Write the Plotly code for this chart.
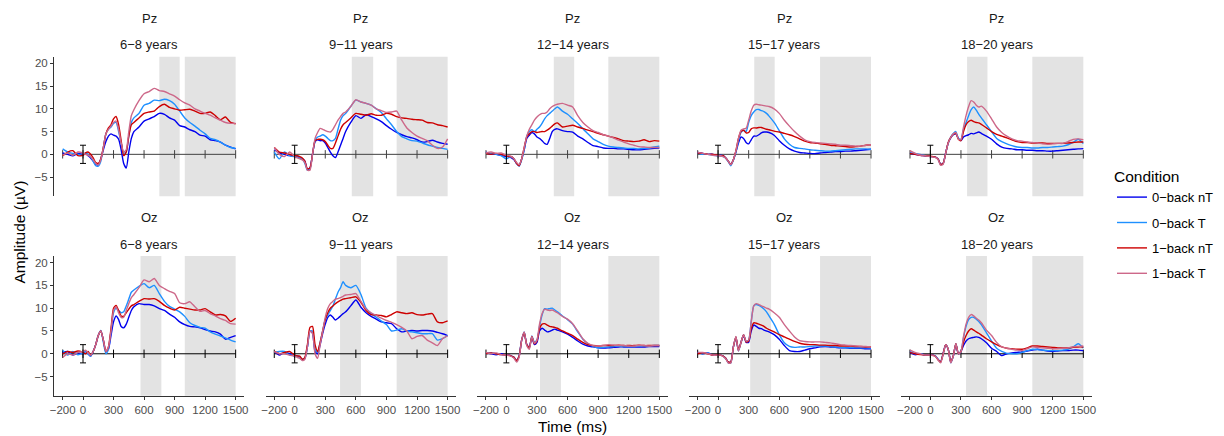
import plotly.graph_objects as go

# ---------------- data ----------------
TIME_MS = [-200, -150, -100, -50, 0,
           25, 50, 75, 100, 125, 150, 175, 200, 225, 250, 275, 300, 325, 350, 375, 400, 425, 450, 475, 500,
           550, 600, 650, 700, 750, 800, 850, 900, 950, 1000, 1050, 1100, 1150, 1200, 1250, 1300, 1350, 1400, 1450, 1500]

CONDITIONS = ["0−back nT", "0−back T", "1−back nT", "1−back T"]
AGE_GROUPS = ["6−8 years", "9−11 years", "12−14 years", "15−17 years", "18−20 years"]
ELECTRODES = ["Pz", "Oz"]
X_TICKS = [-200, 0, 300, 600, 900, 1200, 1500]
X_TICK_TEXT = ["−200", "0", "300", "600", "900", "1200", "1500"]
Y_TICKS = [-5, 0, 5, 10, 15, 20]
Y_TICK_TEXT = ["−5", "0", "5", "10", "15", "20"]
ERROR_HALF = 2.0
# analysis windows (ms) per age group
WIN_PZ = [(750, 950), (560, 770), (465, 665), (355, 555), (360, 560)]
WIN_OZ = [(565, 770), (445, 650), (330, 535), (315, 520), (350, 555)]
LATE_WIN = (1000, 1500)

# ---- Pz ----
PZ_6_8_NT0 = [0.3, 0.0, -0.3, 0.2, 0.0,
              0.2, -0.3, -0.8, -1.5, -2.2, -2.3, -1.0, 1.0, 2.8, 4.0, 4.5, 4.2, 4.0, 3.3, 1.0, -2.0, -3.0, 0.5, 3.5, 5.0,
              6.0, 7.3, 7.8, 8.3, 9.0, 8.8, 8.0, 7.5, 6.3, 6.0, 5.4, 5.0, 4.2, 4.0, 3.2, 3.0, 2.7, 2.0, 1.6, 1.2]
PZ_6_8_T0 = [1.2, 0.5, 0.2, 0.0, -0.2,
             0.3, 0.0, -0.5, -1.5, -2.5, -2.6, -1.5, 1.5, 4.5, 5.5, 6.0, 6.8, 7.0, 5.0, 2.5, 0.3, 0.5, 4.0, 7.0, 8.0,
             9.0, 10.8, 11.2, 11.9, 11.8, 12.1, 11.8, 11.0, 9.5, 8.0, 7.0, 6.2, 5.3, 4.5, 3.5, 3.2, 2.7, 2.0, 1.5, 1.3]
PZ_6_8_NT1 = [-0.3, 0.5, 0.8, -0.3, -0.2,
              0.3, 0.5, 0.0, -0.8, -1.8, -2.0, -1.0, 1.5, 4.5, 5.8, 6.5, 7.8, 8.3, 6.5, 3.0, -0.3, 0.5, 4.0, 6.5, 7.0,
              8.0, 9.0, 9.3, 9.5, 10.5, 11.0, 10.3, 10.0, 9.7, 9.8, 9.9, 9.5, 9.0, 9.0, 9.3, 8.5, 7.6, 8.2, 7.0, 6.7]
PZ_6_8_T1 = [-0.2, 0.3, -0.2, 0.5, 0.3,
             0.0, -0.2, -0.5, -1.2, -2.0, -2.3, -1.2, 1.5, 4.5, 5.5, 6.2, 7.0, 7.3, 5.5, 2.5, 0.5, 1.0, 5.0, 8.5, 9.8,
             11.8, 13.3, 13.8, 14.5, 14.0, 13.8, 13.3, 12.8, 12.0, 11.3, 10.8, 10.0, 9.5, 9.0, 8.6, 8.0, 7.5, 7.0, 6.8, 6.8]

PZ_9_11_NT0 = [1.0, 0.3, 0.0, -0.3, -0.5,
               -0.5, -0.8, -1.0, -1.5, -3.3, -3.0, 0.0, 2.8, 3.2, 3.0, 3.0, 2.5, 1.5, 0.5, -0.3, -0.7, 0.5, 2.0, 3.5, 5.0,
               7.0, 8.5, 7.9, 8.7, 8.3, 7.8, 7.2, 6.3, 5.5, 4.8, 4.3, 3.9, 3.6, 3.2, 2.7, 2.8, 3.1, 2.7, 2.4, 2.2]
PZ_9_11_T0 = [0.5, -1.0, 0.5, -0.3, -0.5,
              -0.3, -0.8, -1.0, -2.0, -3.5, -3.2, 0.0, 3.0, 3.8, 4.0, 4.3, 4.0, 3.5, 3.0, 3.0, 3.5, 5.5, 7.5, 8.5, 9.0,
              10.5, 11.9, 11.5, 11.2, 10.8, 10.0, 9.2, 7.8, 6.5, 5.0, 3.9, 3.4, 3.0, 2.9, 2.5, 2.1, 1.8, 1.5, 1.3, 1.1]
PZ_9_11_NT1 = [1.5, 0.5, 0.3, 0.0, -0.3,
               -0.3, -0.5, -0.8, -1.5, -3.2, -3.0, 0.0, 3.0, 3.3, 3.3, 3.2, 2.8, 2.0, 1.3, 1.3, 2.5, 4.0, 5.5, 6.5, 7.0,
               8.0, 9.0, 8.8, 8.6, 8.9, 8.6, 8.6, 9.0, 8.8, 8.3, 8.0, 7.9, 7.7, 7.6, 7.5, 7.0, 6.9, 6.5, 6.3, 6.0]
PZ_9_11_T1 = [1.5, 0.0, -0.5, 0.5, -0.5,
              -0.8, -1.0, -1.2, -1.8, -3.5, -3.5, 0.0, 3.5, 4.8, 5.7, 5.5, 5.2, 5.0, 4.9, 5.5, 6.5, 7.5, 8.3, 9.0, 9.3,
              10.5, 12.0, 11.5, 11.2, 10.8, 10.0, 9.6, 9.2, 9.3, 9.5, 7.5, 5.8, 4.8, 4.0, 3.5, 3.0, 2.0, 1.3, 1.6, 3.4]

PZ_12_14_NT0 = [0.5, 0.0, 0.0, -0.3, -0.5,
                -0.5, -0.8, -1.2, -2.0, -2.5, -1.0, 1.0, 3.5, 4.2, 4.8, 4.5, 3.8, 3.5, 3.0, 2.4, 2.2, 3.5, 5.0, 5.5, 5.6,
                5.2, 5.0, 4.9, 4.0, 3.4, 2.6, 1.9, 1.7, 1.4, 1.3, 1.3, 1.2, 1.2, 1.1, 1.0, 1.0, 1.1, 1.2, 1.3, 1.4]
PZ_12_14_T0 = [0.3, 0.2, 0.0, -0.3, -1.0,
               -0.7, -0.5, -1.0, -2.0, -2.6, -1.2, 1.0, 4.0, 5.0, 5.4, 5.0, 5.5, 6.0, 6.8, 7.8, 8.5, 9.0, 9.5, 10.0, 10.4,
               9.5, 8.8, 7.8, 6.8, 5.6, 4.5, 3.4, 2.8, 2.2, 1.8, 1.6, 1.5, 1.4, 1.3, 1.3, 1.2, 1.3, 1.4, 1.6, 1.8]
PZ_12_14_NT1 = [0.2, 0.0, 0.2, 0.0, -0.3,
                -0.5, -0.5, -1.0, -2.0, -2.5, -1.0, 1.5, 3.8, 4.5, 5.0, 5.0, 4.8, 4.9, 5.0, 5.0, 5.3, 5.7, 6.2, 6.7, 6.9,
                6.0, 6.2, 6.4, 6.0, 5.7, 5.3, 5.0, 4.6, 4.3, 4.0, 3.7, 3.4, 3.0, 2.9, 2.8, 2.9, 3.2, 2.8, 3.0, 2.9]
PZ_12_14_T1 = [0.3, 0.5, 0.2, 0.3, -0.2,
               -0.3, -0.5, -1.0, -1.8, -2.3, -1.0, 1.5, 4.0, 5.5, 6.5, 7.5, 8.2, 8.7, 9.0, 9.0, 9.3, 10.0, 10.5, 10.8, 11.0,
               11.2, 10.8, 10.4, 8.5, 7.0, 6.0, 5.2, 4.8, 4.3, 4.0, 3.6, 3.1, 2.7, 2.3, 2.0, 1.7, 1.6, 1.5, 1.5, 1.5]

PZ_15_17_NT0 = [0.4, 0.2, 0.0, 0.0, -0.3,
                -0.2, -0.3, -0.8, -1.5, -2.2, -1.2, 0.5, 2.5, 3.8, 3.5, 2.6, 2.3, 3.2, 4.0, 4.0, 4.3, 4.7, 4.9, 4.9, 4.8,
                4.2, 3.0, 2.0, 1.2, 0.7, 0.4, 0.3, 0.2, 0.15, 0.3, 0.4, 0.5, 0.6, 0.6, 0.7, 0.7, 0.8, 0.9, 1.0, 1.1]
PZ_15_17_T0 = [0.3, 0.0, 0.0, -0.2, -0.3,
               -0.3, -0.5, -0.8, -1.6, -2.5, -1.3, 0.5, 3.0, 4.8, 5.3, 5.0, 7.0, 8.5, 9.3, 9.8, 9.85, 9.6, 9.4, 9.0, 8.4,
               7.0, 5.2, 3.4, 2.2, 1.5, 1.3, 1.2, 1.0, 0.9, 0.8, 0.7, 0.7, 0.8, 0.9, 1.0, 1.1, 1.2, 1.2, 1.2, 1.1]
PZ_15_17_NT1 = [0.3, 0.2, 0.0, 0.0, -0.2,
                -0.3, -0.3, -0.8, -1.5, -2.2, -1.2, 0.8, 3.5, 5.0, 5.3, 4.7, 4.8, 5.6, 5.8, 5.8, 5.9, 5.9, 5.7, 5.5, 5.4,
                5.1, 4.9, 4.6, 4.3, 3.9, 3.4, 2.9, 2.6, 2.5, 2.3, 2.2, 2.0, 1.9, 1.8, 1.7, 1.6, 1.7, 1.8, 2.0, 2.1]
PZ_15_17_T1 = [0.5, 0.2, 0.0, -0.2, -0.3,
               -0.3, -0.5, -0.8, -1.5, -2.3, -1.2, 0.8, 3.5, 5.3, 5.6, 5.7, 7.5, 9.5, 10.8, 11.0, 10.9, 10.8, 10.7, 10.6, 10.5,
               10.0, 9.0, 7.5, 6.2, 5.0, 4.0, 3.2, 2.8, 2.6, 2.5, 2.4, 2.3, 2.2, 2.0, 2.0, 1.9, 1.8, 1.8, 2.0, 2.1]

PZ_18_20_NT0 = [0.3, 0.0, -0.2, -0.3, -0.5,
                -0.5, -0.6, -1.0, -2.2, -2.0, 0.3, 2.5, 3.6, 4.3, 4.5, 3.5, 3.0, 3.8, 4.1, 4.3, 4.6, 4.5, 4.7, 4.9, 4.6,
                4.0, 3.3, 2.3, 1.6, 1.3, 1.2, 1.0, 1.0, 0.9, 0.9, 0.8, 0.8, 0.7, 0.7, 0.8, 0.9, 1.0, 1.1, 1.2, 1.25]
PZ_18_20_T0 = [0.3, 0.2, 0.0, -0.3, -0.5,
               -0.5, -0.6, -1.0, -2.2, -2.0, 0.2, 2.5, 3.8, 4.6, 5.0, 3.5, 3.3, 5.5, 7.0, 8.5, 9.8, 10.4, 9.7, 8.8, 8.0,
               6.5, 5.0, 3.5, 2.8, 2.3, 1.9, 1.6, 1.5, 1.5, 1.4, 1.4, 1.5, 1.5, 1.6, 1.7, 1.8, 2.1, 2.6, 3.3, 2.4]
PZ_18_20_NT1 = [0.2, 0.0, -0.2, -0.3, -0.4,
                -0.5, -0.6, -1.0, -2.2, -2.0, 0.2, 2.6, 3.7, 4.4, 4.6, 3.3, 3.0, 5.0, 6.5, 7.2, 7.5, 7.2, 7.0, 6.9, 6.6,
                5.8, 5.0, 4.4, 4.0, 3.6, 3.2, 2.8, 2.6, 2.6, 2.5, 2.5, 2.5, 2.4, 2.4, 2.4, 2.4, 2.5, 2.6, 2.7, 2.7]
PZ_18_20_T1 = [0.8, 0.2, -0.2, -0.3, -0.5,
               -0.6, -0.7, -1.1, -2.4, -2.2, 0.2, 2.5, 3.7, 4.5, 4.8, 3.3, 3.2, 6.0, 8.5, 10.5, 11.8, 11.5, 10.8, 10.4, 10.6,
               9.5, 7.8, 6.0, 4.8, 4.0, 3.4, 3.0, 2.9, 2.7, 2.6, 2.5, 2.3, 2.2, 2.3, 2.4, 2.4, 2.8, 3.3, 3.4, 3.2]

# ---- Oz ----
OZ_6_8_NT0 = [0.3, 0.5, -0.3, 0.2, 0.0,
              0.5, 0.0, -0.5, 0.5, 2.0, 4.0, 5.0, 3.0, 0.5, 1.0, 4.0, 7.0, 8.3, 7.5, 6.0, 5.7, 6.5, 8.0, 9.5, 10.3,
              11.0, 10.8, 10.8, 10.5, 9.9, 9.5, 8.7, 8.0, 7.0, 6.4, 6.0, 5.9, 5.7, 5.3, 5.0, 4.8, 4.3, 3.2, 3.6, 4.0]
OZ_6_8_T0 = [0.8, -0.3, 0.5, -0.2, 0.2,
             0.5, 0.0, -0.5, 0.5, 2.0, 4.0, 5.1, 2.5, 0.0, 1.0, 5.0, 9.0, 10.0, 9.5, 9.0, 9.2, 10.5, 12.0, 13.5, 14.0,
             14.8, 15.4, 14.5, 15.0, 13.2, 11.5, 10.4, 9.8, 9.2, 8.2, 6.8, 6.2, 5.8, 5.6, 4.8, 4.3, 3.9, 3.5, 3.0, 2.6]
OZ_6_8_NT1 = [0.0, 0.5, 0.3, 0.6, 0.3,
              0.0, 0.5, -0.3, 0.5, 2.0, 4.0, 5.0, 3.0, 0.5, 1.5, 5.5, 10.0, 10.6, 9.5, 8.3, 8.2, 9.0, 9.8, 10.5, 10.8,
              11.5, 12.1, 12.0, 12.1, 11.5, 10.6, 10.0, 9.6, 10.2, 10.0, 9.8, 9.6, 9.6, 9.9, 9.2, 8.5, 8.6, 8.3, 7.1, 7.8]
OZ_6_8_T1 = [-0.8, 0.0, -0.3, 0.3, 0.5,
             0.8, 0.2, -0.3, 0.5, 2.0, 4.0, 5.0, 3.0, 0.5, 1.5, 5.0, 9.5, 10.3, 9.0, 8.0, 8.0, 9.5, 11.0, 12.3, 13.0,
             14.5, 16.2, 15.8, 16.5, 15.0, 14.3, 13.7, 13.2, 11.2, 11.0, 11.4, 10.3, 9.3, 9.5, 8.8, 8.3, 7.7, 7.3, 6.6, 6.5]

OZ_9_11_NT0 = [0.5, -0.3, 0.3, 0.0, -0.5,
               -0.5, -0.8, -1.3, -1.0, 1.5, 5.0, 4.5, 0.5, 0.0, 2.0, 4.5, 6.5, 8.0, 8.5, 8.0, 7.4, 7.8, 8.3, 8.8, 9.2,
               10.5, 11.8, 10.2, 9.0, 8.2, 7.6, 7.0, 6.8, 6.6, 5.5, 4.8, 5.0, 5.1, 5.0, 5.1, 5.1, 5.0, 4.7, 4.4, 4.0]
OZ_9_11_T0 = [0.3, 0.5, 0.5, -0.3, -0.3,
              -0.5, -0.8, -1.2, -1.0, 1.5, 5.0, 5.0, 1.0, 0.3, 2.5, 5.0, 7.5, 8.5, 9.5, 10.5, 12.0, 13.5, 14.5, 15.8, 15.0,
              14.5, 15.0, 13.0, 10.0, 8.8, 8.0, 7.2, 6.4, 5.0, 5.2, 5.5, 5.0, 4.8, 4.6, 4.4, 4.4, 4.4, 3.0, 3.3, 4.0]
OZ_9_11_NT1 = [0.5, 0.0, 0.3, 0.5, -0.3,
               -0.5, -0.5, -1.2, -0.8, 2.0, 5.8, 6.0, 2.0, 0.5, 2.5, 5.0, 7.5, 9.0, 10.0, 10.5, 11.0, 11.4, 11.7, 12.0, 12.1,
               12.3, 12.5, 11.3, 9.5, 8.6, 8.5, 8.4, 8.1, 8.6, 9.2, 9.0, 8.8, 9.0, 8.6, 8.5, 8.7, 8.8, 7.0, 6.8, 7.2]
OZ_9_11_T1 = [0.5, 0.0, 0.0, -0.3, -0.5,
              -0.8, -1.0, -1.5, -1.2, 1.5, 5.0, 4.5, 0.0, -1.0, 2.0, 5.0, 8.0, 10.0, 11.0, 11.5, 12.0, 12.1, 12.3, 12.6, 12.9,
              13.0, 13.2, 11.5, 9.8, 9.0, 8.4, 7.8, 7.3, 6.9, 6.4, 5.8, 5.0, 3.3, 3.8, 4.0, 3.0, 2.4, 1.8, 3.3, 3.9]

OZ_12_14_NT0 = [0.2, 0.0, -0.2, 0.0, -0.3,
                -0.3, -0.5, -0.8, -1.5, -0.5, 3.0, 4.6, 2.0, 1.5, 3.6, 2.0, 2.5, 5.0, 5.6, 5.2, 4.8, 4.9, 5.2, 5.4, 5.2,
                4.8, 4.3, 3.6, 2.8, 2.1, 1.7, 1.5, 1.3, 1.25, 1.3, 1.4, 1.5, 1.5, 1.5, 1.5, 1.5, 1.5, 1.6, 1.6, 1.6]
OZ_12_14_T0 = [0.0, 0.2, 0.0, -0.2, -0.3,
               -0.3, -0.5, -0.8, -1.6, -0.5, 3.0, 4.8, 2.0, 1.2, 3.9, 2.5, 3.0, 6.0, 8.5, 9.9, 9.8, 9.9, 10.0, 9.6, 9.2,
               8.3, 7.5, 6.5, 4.8, 3.2, 2.2, 1.6, 1.3, 1.4, 1.5, 1.6, 1.7, 1.6, 1.6, 1.6, 1.7, 1.7, 1.7, 1.8, 1.8]
OZ_12_14_NT1 = [0.0, 0.2, 0.0, -0.2, -0.3,
                -0.3, -0.5, -0.8, -1.5, -0.5, 3.0, 4.6, 2.0, 1.3, 3.8, 2.2, 2.8, 5.5, 6.5, 6.6, 6.3, 6.0, 5.9, 5.8, 5.6,
                5.0, 4.5, 4.0, 3.2, 2.5, 2.0, 1.8, 1.7, 1.8, 1.8, 1.8, 1.9, 1.8, 1.8, 1.8, 1.9, 1.8, 1.8, 1.8, 1.8]
OZ_12_14_T1 = [0.3, 0.0, 0.2, -0.2, -0.3,
               -0.4, -0.6, -1.0, -1.8, -0.8, 3.0, 4.8, 1.8, 1.0, 3.8, 2.3, 3.0, 6.5, 8.8, 9.8, 9.6, 9.5, 9.6, 9.3, 9.0,
               8.2, 7.6, 6.6, 5.0, 3.3, 2.3, 1.8, 1.7, 1.8, 2.0, 1.9, 1.8, 1.8, 1.7, 1.7, 1.8, 1.8, 1.7, 1.8, 1.8]

OZ_15_17_NT0 = [0.3, 0.0, 0.2, -0.3, -0.2,
                -0.3, -0.5, -1.0, -1.8, -1.8, 1.5, 3.5, 0.8, 2.5, 4.0, 2.5, 2.5, 5.0, 6.3, 6.0, 5.6, 5.5, 5.2, 5.0, 4.8,
                4.2, 3.2, 1.8, 0.7, 0.5, 0.5, 0.8, 1.1, 1.3, 1.5, 1.6, 1.5, 1.4, 1.3, 1.3, 1.2, 1.2, 1.2, 1.1, 1.1]
OZ_15_17_T0 = [0.2, 0.0, 0.2, -0.3, -0.3,
               -0.3, -0.5, -1.0, -2.0, -2.0, 1.5, 3.7, 0.6, 2.5, 4.2, 2.8, 3.0, 7.0, 10.5, 10.8, 10.6, 10.3, 9.8, 9.2, 8.3,
               6.5, 4.2, 2.4, 1.6, 1.4, 1.5, 1.5, 1.6, 1.7, 1.7, 1.7, 1.6, 1.5, 1.4, 1.3, 1.3, 1.3, 1.3, 1.3, 1.25]
OZ_15_17_NT1 = [0.0, 0.2, 0.0, -0.3, -0.2,
                -0.3, -0.5, -1.0, -1.8, -1.8, 1.5, 3.7, 0.8, 2.5, 4.2, 2.6, 2.8, 5.5, 6.8, 6.7, 6.5, 6.3, 6.0, 5.6, 5.3,
                4.8, 4.2, 3.7, 3.2, 2.7, 2.3, 2.1, 2.0, 2.0, 1.9, 1.9, 1.8, 1.8, 1.7, 1.7, 1.7, 1.6, 1.6, 1.5, 1.5]
OZ_15_17_T1 = [0.3, 0.3, 0.0, -0.3, -0.3,
               -0.3, -0.6, -1.1, -2.0, -2.0, 1.5, 3.8, 0.6, 2.5, 4.2, 2.8, 3.0, 7.0, 10.5, 11.0, 10.8, 10.5, 10.3, 10.0, 9.8,
               9.0, 8.0, 6.4, 5.0, 3.7, 2.9, 2.7, 2.6, 2.6, 2.6, 2.5, 2.4, 2.2, 2.0, 1.9, 1.8, 1.7, 1.6, 1.6, 1.5]

OZ_18_20_NT0 = [0.3, -0.2, 0.0, -0.3, -0.3,
                -0.3, -0.5, -1.2, -1.8, 0.0, 2.0, 1.0, -1.8, -0.5, 2.1, 0.0, 0.5, 1.8, 2.8, 3.3, 3.5, 3.6, 3.7, 3.6, 3.3,
                2.4, 1.2, 0.5, -0.4, 0.0, 0.2, 0.3, 0.4, 0.6, 0.8, 1.0, 0.8, 0.6, 0.5, 0.6, 0.7, 0.7, 0.8, 0.8, 0.7]
OZ_18_20_T0 = [0.5, 0.0, 0.0, -0.3, -0.3,
               -0.3, -0.5, -1.2, -1.8, 0.0, 2.0, 1.0, -2.0, -0.5, 2.2, 0.0, 0.5, 3.5, 6.0, 7.5, 8.0, 8.0, 7.6, 7.1, 6.4,
               4.6, 2.8, 1.2, 0.5, 0.1, 0.0, 0.0, 0.3, 0.7, 1.0, 0.9, 0.8, 0.7, 0.7, 0.7, 0.8, 1.0, 1.5, 2.2, 1.25]
OZ_18_20_NT1 = [0.3, 0.0, -0.2, -0.3, -0.3,
                -0.3, -0.6, -1.3, -1.8, 0.0, 2.0, 1.0, -1.8, -0.4, 2.2, 0.0, 0.5, 2.5, 4.0, 5.0, 5.5, 5.2, 4.8, 4.5, 4.1,
                3.3, 2.6, 2.0, 1.5, 1.2, 1.1, 1.0, 1.0, 1.3, 1.7, 1.7, 1.6, 1.5, 1.4, 1.3, 1.3, 1.3, 1.4, 1.5, 1.5]
OZ_18_20_T1 = [0.8, 0.3, 0.0, -0.3, -0.3,
               -0.4, -0.6, -1.3, -2.0, -0.2, 2.0, 1.0, -2.0, -0.5, 2.2, 0.0, 0.5, 3.8, 6.5, 8.0, 8.6, 8.3, 7.8, 7.4, 6.8,
               5.2, 4.0, 2.5, 1.5, 1.2, 1.0, 0.8, 0.7, 1.1, 1.5, 1.4, 1.3, 1.2, 1.1, 1.1, 1.2, 1.3, 1.5, 1.6, 1.7]

PANEL_SERIES = [
    [PZ_6_8_NT0, PZ_6_8_T0, PZ_6_8_NT1, PZ_6_8_T1],
    [PZ_9_11_NT0, PZ_9_11_T0, PZ_9_11_NT1, PZ_9_11_T1],
    [PZ_12_14_NT0, PZ_12_14_T0, PZ_12_14_NT1, PZ_12_14_T1],
    [PZ_15_17_NT0, PZ_15_17_T0, PZ_15_17_NT1, PZ_15_17_T1],
    [PZ_18_20_NT0, PZ_18_20_T0, PZ_18_20_NT1, PZ_18_20_T1],
    [OZ_6_8_NT0, OZ_6_8_T0, OZ_6_8_NT1, OZ_6_8_T1],
    [OZ_9_11_NT0, OZ_9_11_T0, OZ_9_11_NT1, OZ_9_11_T1],
    [OZ_12_14_NT0, OZ_12_14_T0, OZ_12_14_NT1, OZ_12_14_T1],
    [OZ_15_17_NT0, OZ_15_17_T0, OZ_15_17_NT1, OZ_15_17_T1],
    [OZ_18_20_NT0, OZ_18_20_T0, OZ_18_20_NT1, OZ_18_20_T1],
]
for grp in PANEL_SERIES:
    for s in grp:
        assert len(s) == len(TIME_MS), len(s)

# ---------------- style / layout ----------------
W, H = 1224, 436
COLORS = ["#0000EE", "#1E90FF", "#CD0000", "#CD6889"]
SHADE = "#E3E3E3"
FONT = "Liberation Sans"
COL_PX = [(54.0, 244.3), (265.6, 456.3), (477.3, 668.0), (689.0, 879.7), (901.3, 1092.0)]
ROW_PX = [(56.7, 196.2), (256.0, 395.7)]
X_RANGE = [-285, 1585]
Y_RANGE = [-9.2, 21.45]

fig = go.Figure()
layout = dict(width=W, height=H, margin=dict(l=0, r=0, t=0, b=0), autosize=False,
              paper_bgcolor="white", plot_bgcolor="white",
              font=dict(family=FONT, color="#000000"), showlegend=True)
shapes, annotations = [], []

for r in range(2):
    for c in range(5):
        n = r * 5 + c + 1
        sfx = "" if n == 1 else str(n)
        xa, ya = f"x{sfx}", f"y{sfx}"
        x0, x1 = COL_PX[c]
        top, bot = ROW_PX[r]
        layout[f"xaxis{sfx}"] = dict(
            domain=[x0 / W, x1 / W], range=X_RANGE, anchor=ya, showgrid=False, zeroline=False,
            showline=(r == 1), linecolor="#333333", linewidth=1,
            ticks="outside" if r == 1 else "", ticklen=3, tickcolor="#333333",
            tickvals=X_TICKS, ticktext=X_TICK_TEXT, showticklabels=(r == 1),
            tickfont=dict(size=11.5, color="#4D4D4D", family=FONT), automargin=False, fixedrange=True)
        layout[f"yaxis{sfx}"] = dict(
            domain=[1 - bot / H, 1 - top / H], range=Y_RANGE, anchor=xa, showgrid=False, zeroline=False,
            showline=(c == 0), linecolor="#333333", linewidth=1,
            ticks="outside" if c == 0 else "", ticklen=3, tickcolor="#333333",
            tickvals=Y_TICKS, ticktext=Y_TICK_TEXT, showticklabels=(c == 0),
            tickfont=dict(size=11.5, color="#4D4D4D", family=FONT), automargin=False, fixedrange=True)

        # shaded windows
        win = (WIN_PZ if r == 0 else WIN_OZ)[c]
        for (a, b) in (win, LATE_WIN):
            shapes.append(dict(type="rect", xref=xa, yref=f"{ya} domain", x0=a, x1=b, y0=0, y1=1,
                               fillcolor=SHADE, line=dict(width=0), layer="below"))

        zc = "#404040" if r == 0 else "#000000"
        # zero line with ticks
        fig.add_trace(go.Scatter(x=[X_TICKS[0], X_TICKS[-1]], y=[0, 0], mode="lines",
                                 line=dict(color=zc, width=1), xaxis=xa, yaxis=ya,
                                 showlegend=False, hoverinfo="skip"))
        fig.add_trace(go.Scatter(x=X_TICKS, y=[0] * len(X_TICKS), mode="markers",
                                 marker=dict(symbol="line-ns", size=6, line=dict(width=1, color=zc)),
                                 xaxis=xa, yaxis=ya, showlegend=False, hoverinfo="skip"))
        # ERP curves
        for k, series in enumerate(PANEL_SERIES[n - 1]):
            fig.add_trace(go.Scatter(x=TIME_MS, y=series, mode="lines", name=CONDITIONS[k],
                                     legendgroup=CONDITIONS[k], showlegend=(n == 1),
                                     line=dict(color=COLORS[k], width=1.4, shape="spline", smoothing=0.6),
                                     xaxis=xa, yaxis=ya))
        # error bar at stimulus onset
        fig.add_trace(go.Scatter(x=[0], y=[0], mode="markers", marker=dict(size=1, color="rgba(0,0,0,0)"),
                                 error_y=dict(type="data", array=[ERROR_HALF], visible=True, color="#000000",
                                              thickness=1, width=3),
                                 xaxis=xa, yaxis=ya, showlegend=False, hoverinfo="skip"))

        # strip labels
        cx = (x0 + x1) / 2 / W
        annotations.append(dict(text=ELECTRODES[r], x=cx, y=1 - (top - 38.2) / H, xref="paper", yref="paper",
                                showarrow=False, xanchor="center", yanchor="middle",
                                font=dict(size=13, color="#1A1A1A", family=FONT)))
        annotations.append(dict(text=AGE_GROUPS[c], x=cx, y=1 - (top - 12.0) / H, xref="paper", yref="paper",
                                showarrow=False, xanchor="center", yanchor="middle",
                                font=dict(size=13, color="#1A1A1A", family=FONT)))

annotations.append(dict(text="Time (ms)", x=572.7 / W, y=1 - 426.7 / H, xref="paper", yref="paper",
                        showarrow=False, xanchor="center", yanchor="middle",
                        font=dict(size=15.5, color="#000000", family=FONT)))
annotations.append(dict(text="Amplitude (µV)", x=19 / W, y=1 - 232.5 / H, xref="paper", yref="paper",
                        showarrow=False, xanchor="center", yanchor="middle", textangle=-90,
                        font=dict(size=15.5, color="#000000", family=FONT)))

layout["shapes"] = shapes
layout["annotations"] = annotations
layout["legend"] = dict(x=1112 / W, xanchor="left", y=1 - 162 / H, yanchor="top",
                        title=dict(text="Condition", font=dict(size=15.5, color="#000000", family=FONT)),
                        font=dict(size=13, color="#000000", family=FONT),
                        traceorder="grouped", tracegroupgap=5.5, bgcolor="rgba(0,0,0,0)", borderwidth=0)
fig.update_layout(**layout)
fig.write_html("out.html")
